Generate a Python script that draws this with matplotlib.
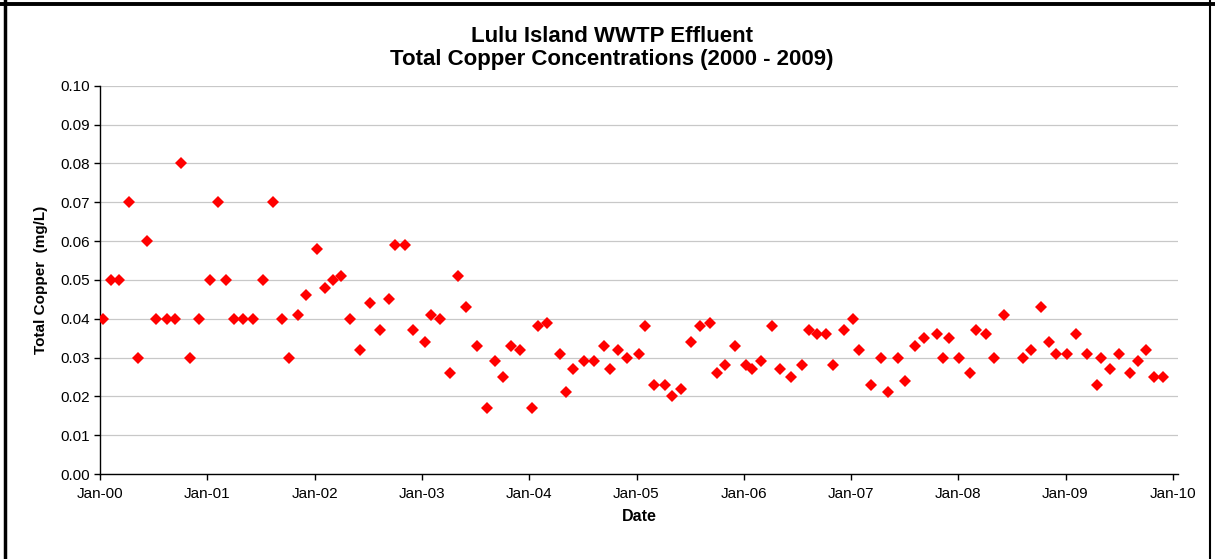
import matplotlib
matplotlib.use("Agg")
import matplotlib.pyplot as plt
import matplotlib.dates as mdates
from matplotlib.lines import Line2D
import numpy as np
import pandas as pd

plt.rcParams['font.family'] = ['Liberation Sans', 'DejaVu Sans']

# ---- data ----
dates = [
    "2000-01-12", "2000-02-08", "2000-03-07", "2000-04-08", "2000-05-10", "2000-06-08",
    "2000-07-11", "2000-08-15", "2000-09-13", "2000-10-03", "2000-11-01", "2000-12-03",
    "2001-01-10", "2001-02-07", "2001-03-04", "2001-04-01", "2001-05-02", "2001-06-05",
    "2001-07-10", "2001-08-13", "2001-09-12", "2001-10-05", "2001-11-05", "2001-12-03",
    "2002-01-10", "2002-02-05", "2002-03-04", "2002-04-02", "2002-05-02", "2002-06-05",
    "2002-07-10", "2002-08-12", "2002-09-10", "2002-10-03", "2002-11-05", "2002-12-03",
    "2003-01-11", "2003-02-02", "2003-03-04", "2003-04-07", "2003-05-05", "2003-06-01",
    "2003-07-07", "2003-08-12", "2003-09-07", "2003-10-04", "2003-11-01", "2003-12-02",
    "2004-01-11", "2004-01-30", "2004-03-02", "2004-04-17", "2004-05-05", "2004-05-30",
    "2004-07-05", "2004-08-10", "2004-09-12", "2004-10-02", "2004-10-31", "2004-11-29",
    "2005-01-08", "2005-01-30", "2005-02-28", "2005-04-08", "2005-05-01", "2005-05-31",
    "2005-07-04", "2005-08-05", "2005-09-09", "2005-10-02", "2005-10-31", "2005-12-02",
    "2006-01-08", "2006-01-29", "2006-03-02", "2006-04-06", "2006-05-06", "2006-06-11",
    "2006-07-17", "2006-08-10", "2006-09-08", "2006-10-08", "2006-11-02", "2006-12-07",
    "2007-01-07", "2007-01-28", "2007-03-09", "2007-04-14", "2007-05-06", "2007-06-10",
    "2007-07-06", "2007-08-09", "2007-09-08", "2007-10-20", "2007-11-10", "2007-12-02",
    "2008-01-05", "2008-02-09", "2008-03-01", "2008-04-06", "2008-05-03", "2008-06-04",
    "2008-08-09", "2008-09-04", "2008-10-10", "2008-11-07", "2008-11-30",
    "2009-01-07", "2009-02-05", "2009-03-14", "2009-04-18", "2009-05-03", "2009-06-03",
    "2009-07-03", "2009-08-08", "2009-09-05", "2009-10-02", "2009-10-29", "2009-11-29",
]
copper = [
    0.040, 0.050, 0.050, 0.070, 0.030, 0.060, 0.040, 0.040, 0.040, 0.080, 0.030, 0.040,
    0.050, 0.070, 0.050, 0.040, 0.040, 0.040, 0.050, 0.070, 0.040, 0.030, 0.041, 0.046,
    0.058, 0.048, 0.050, 0.051, 0.040, 0.032, 0.044, 0.037, 0.045, 0.059, 0.059, 0.037,
    0.034, 0.041, 0.040, 0.026, 0.051, 0.043, 0.033, 0.017, 0.029, 0.025, 0.033, 0.032,
    0.017, 0.038, 0.039, 0.031, 0.021, 0.027, 0.029, 0.029, 0.033, 0.027, 0.032, 0.030,
    0.031, 0.038, 0.023, 0.023, 0.020, 0.022, 0.034, 0.038, 0.039, 0.026, 0.028, 0.033,
    0.028, 0.027, 0.029, 0.038, 0.027, 0.025, 0.028, 0.037, 0.036, 0.036, 0.028, 0.037,
    0.040, 0.032, 0.023, 0.030, 0.021, 0.030, 0.024, 0.033, 0.035, 0.036, 0.030, 0.035,
    0.030, 0.026, 0.037, 0.036, 0.030, 0.041, 0.030, 0.032, 0.043, 0.034, 0.031,
    0.031, 0.036, 0.031, 0.023, 0.030, 0.027, 0.031, 0.026, 0.029, 0.032, 0.025, 0.025,
]
title_lines = ["Lulu Island WWTP Effluent", "Total Copper Concentrations (2000 - 2009)"]
x_label = "Date"
y_label = "Total Copper  (mg/L)"

x = pd.to_datetime(dates)

W, H = 1215, 559
fig = plt.figure(figsize=(W / 100, H / 100), dpi=100)
ax = fig.add_axes([100 / W, (H - 474) / H, (1178 - 100) / W, (474 - 85.7) / H])

ax.plot(x, copper, linestyle='none', marker='D', markersize=6,
        markerfacecolor='#ff0000', markeredgewidth=0, zorder=3)

ax.set_xlim(pd.Timestamp("2000-01-01"), pd.Timestamp("2010-01-19"))
ax.set_ylim(0, 0.10)
ax.set_yticks(np.arange(0, 0.1001, 0.01))
ax.yaxis.set_major_formatter(matplotlib.ticker.FormatStrFormatter('%.2f'))
ax.xaxis.set_major_locator(mdates.YearLocator())
ax.xaxis.set_major_formatter(mdates.DateFormatter('%b-%y'))

ax.grid(axis='y', color='#c8c8c8', linewidth=0.9)
ax.set_axisbelow(True)
for s in ('top', 'right'):
    ax.spines[s].set_visible(False)
for s in ('left', 'bottom'):
    ax.spines[s].set_linewidth(1.0)
    ax.spines[s].set_color('black')
ax.tick_params(axis='both', direction='out', length=4, width=1, labelsize=11, colors='black')
ax.tick_params(axis='y', pad=3)
ax.tick_params(axis='x', pad=5)

ax.set_xlabel(x_label, fontsize=11.5, fontweight='bold', labelpad=6)
ax.set_ylabel(y_label, fontsize=11, fontweight='bold', labelpad=9)

fig.text(612 / W, 1 - 36 / H, title_lines[0], ha='center', va='center',
         fontsize=16, fontweight='bold')
fig.text(612 / W, 1 - 60 / H, title_lines[1], ha='center', va='center',
         fontsize=16, fontweight='bold')

# outer frame (top, left, right)
fig.add_artist(Line2D([0, 1], [1 - 3.5 / H, 1 - 3.5 / H], transform=fig.transFigure,
                      color='black', linewidth=2.8))
fig.add_artist(Line2D([5 / W, 5 / W], [0, 1], transform=fig.transFigure,
                      color='black', linewidth=2.5))
fig.add_artist(Line2D([1209.5 / W, 1209.5 / W], [0, 1], transform=fig.transFigure,
                      color='black', linewidth=1.5))

fig.savefig("out.png", dpi=100)
